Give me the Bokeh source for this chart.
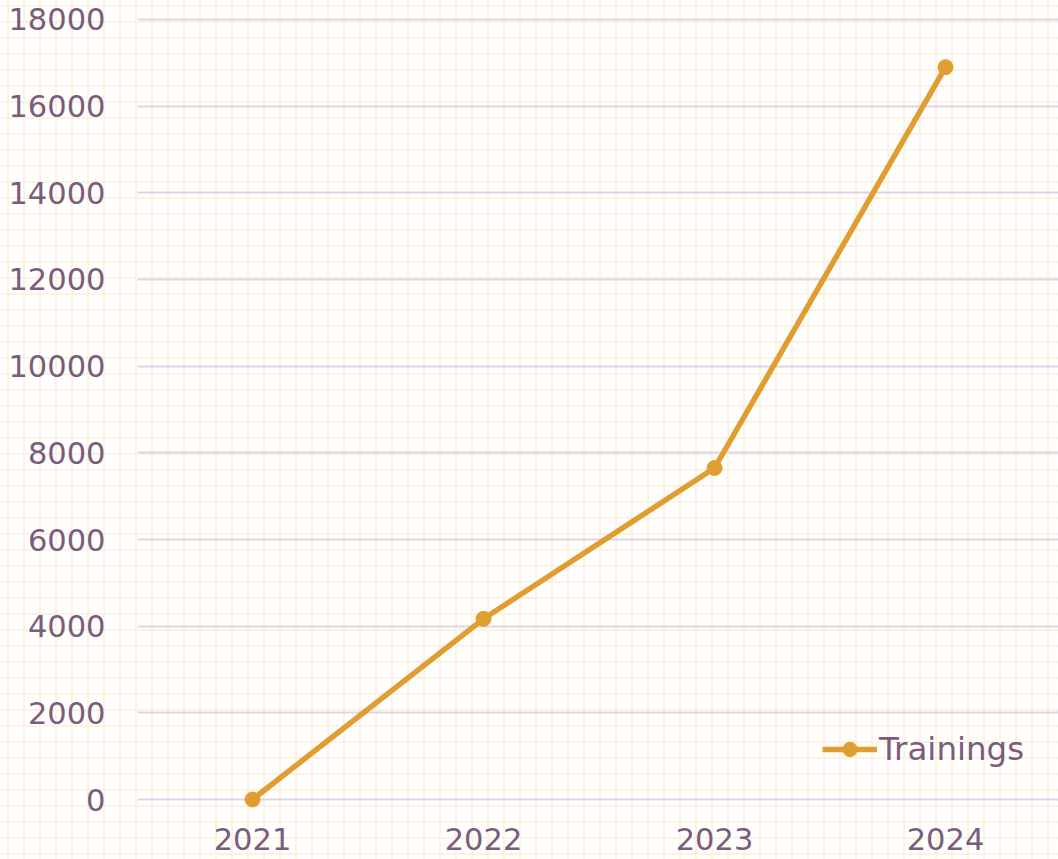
from bokeh.plotting import figure
from bokeh.models import Range1d, FixedTicker, Legend, LegendItem
from bokeh.embed import file_html
from bokeh.resources import INLINE

# ---- data ----
years = [2021, 2022, 2023, 2024]
trainings = [0, 4170, 7650, 16900]
y_ticks = [0, 2000, 4000, 6000, 8000, 10000, 12000, 14000, 16000, 18000]
series_name = "Trainings"

# ---- style ----
LABEL_COLOR = "#7A5C7D"
LINE_COLOR = "#E09E32"
GRID_COLOR = "#DED5E2"
FONT = "DejaVu Sans"

p = figure(
    width=1058, height=859,
    x_range=Range1d(2020.502, 2024.489),
    y_range=Range1d(-369.2, 18253.8),
    output_backend="svg", toolbar_location=None,
    min_border_left=137, min_border_right=0, min_border_top=8, min_border_bottom=44,
)
p.background_fill_color = None
p.border_fill_color = None
p.outline_line_color = None

line = p.line(years, trainings, line_color=LINE_COLOR, line_width=5.5)
pts = p.scatter(years, trainings, size=15, fill_color=LINE_COLOR, line_color=LINE_COLOR)

p.xaxis.ticker = FixedTicker(ticks=years)
p.yaxis.ticker = FixedTicker(ticks=y_ticks)
p.xgrid.grid_line_color = None
p.ygrid.ticker = FixedTicker(ticks=y_ticks)
p.ygrid.grid_line_color = GRID_COLOR
p.ygrid.grid_line_width = 2

for ax in (p.xaxis, p.yaxis):
    ax.axis_line_color = None
    ax.major_tick_line_color = None
    ax.minor_tick_line_color = None
    ax.major_tick_out = 0
    ax.major_tick_in = 0
    ax.major_label_text_font = FONT
    ax.major_label_text_font_size = "30.5px"
    ax.major_label_text_color = LABEL_COLOR
p.yaxis.major_label_standoff = 32
p.xaxis.major_label_standoff = 12

legend = Legend(
    items=[LegendItem(label=series_name, renderers=[line, pts])],
    location=(685, 47),
    glyph_width=55, glyph_height=36, label_standoff=2,
    padding=0, margin=0, spacing=0,
    border_line_color=None, background_fill_alpha=0,
    label_text_font=FONT, label_text_font_size="32.5px", label_text_color=LABEL_COLOR,
)
p.add_layout(legend)

html = file_html(p, INLINE)
css = ("<style>html,body{overflow:hidden;}"
       "body{background-color:#ffffff;"
       "background-image:linear-gradient(to right,#FDF2E0 2px,transparent 2px),"
       "linear-gradient(to bottom,#FDF2E0 2px,transparent 2px);"
       "background-size:16px 16px;background-position:7px 5px;}</style></head>")
html = html.replace("</head>", css, 1)
open("out.html", "w").write(html)
